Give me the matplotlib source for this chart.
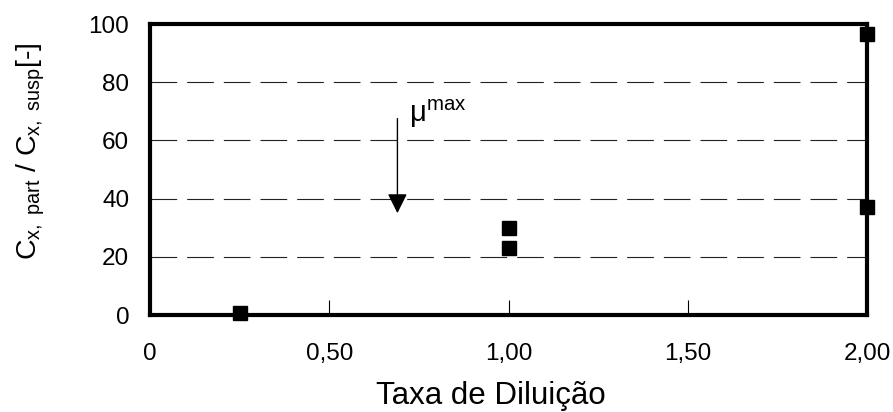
import matplotlib
matplotlib.use("Agg")
import matplotlib.pyplot as plt

plt.rcParams['font.family'] = ['Liberation Sans', 'DejaVu Sans']
plt.rcParams['mathtext.fontset'] = 'custom'
plt.rcParams['mathtext.rm'] = 'Liberation Sans'
plt.rcParams['mathtext.it'] = 'Liberation Sans'
plt.rcParams['mathtext.default'] = 'regular'

# Data
taxa_diluicao = [0.25, 1.0, 1.0, 2.0, 2.0]
razao = [0.7, 30.0, 23.0, 96.5, 37.0]
mu_max_x = 0.69
arrow_start_y = 67.5
arrow_end_y = 35.0
x_ticks = [0, 0.5, 1.0, 1.5, 2.0]
x_ticklabels = ['0', '0,50', '1,00', '1,50', '2,00']
y_ticks = [0, 20, 40, 60, 80, 100]

fig = plt.figure(figsize=(8.93, 4.12), dpi=100)
ax = fig.add_axes([0.168, 0.2354, 0.803, 0.7063])

ax.set_xlim(0, 2)
ax.set_ylim(0, 100)

for y in [20, 40, 60, 80]:
    ax.axhline(y, color='#222222', linewidth=0.8, linestyle=(0, (24, 9)), zorder=1)

ax.plot(taxa_diluicao, razao, linestyle='none', marker='s', markersize=9.5,
        color='black', clip_on=False, zorder=5)

ax.annotate('', xy=(mu_max_x, arrow_end_y), xytext=(mu_max_x, arrow_start_y),
            arrowprops=dict(arrowstyle='-|>', color='black', lw=1.0,
                            mutation_scale=30, shrinkA=0, shrinkB=0))
ax.text(0.722, 66.5, 'μ$^{max}$', fontsize=21, ha='left', va='baseline')

for s in ax.spines.values():
    s.set_linewidth(3.0)
    s.set_zorder(4)

ax.set_xticks(x_ticks)
ax.set_xticklabels(x_ticklabels)
ax.set_yticks(y_ticks)
ax.tick_params(axis='x', direction='in', length=11, width=0.8, pad=20, labelsize=17.5)
ax.tick_params(axis='y', length=0, pad=15, labelsize=17.5)

ax.set_xlabel('Taxa de Diluição', fontsize=22.5)
ax.xaxis.set_label_coords(0.476, -0.228)
ax.set_ylabel(r'$C_{x,\ part}\ /\ C_{x,\ susp}$[-]', fontsize=20.5)
ax.yaxis.set_label_coords(-0.144, 0.564)

fig.savefig('out.png', dpi=100)
